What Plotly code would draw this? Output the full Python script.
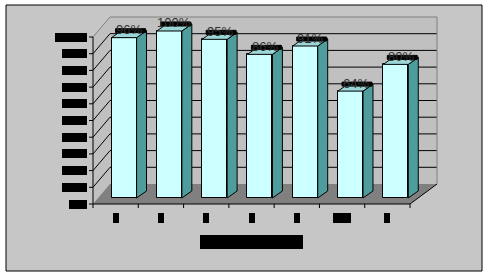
import plotly.graph_objects as go

# ---------------- data ----------------
categories = ["1", "2", "3", "4", "5", "6-7", "8"]
values = [96, 100, 95, 86, 91, 64, 80]
value_labels = ["96%", "100%", "95%", "86%", "91%", "64%", "80%"]
y_ticks = [0, 10, 20, 30, 40, 50, 60, 70, 80, 90, 100]
y_tick_labels = [f"{t}%" for t in y_ticks]
axis_title = "Category"

# ---------------- layout constants ----------------
W, H = 489, 276
X_ORIGIN_PX, X_UNIT_PX = 93.0, 45.29
Y_ORIGIN_PX, Y_UNIT_PX = 204.0, 1.67

WALL_DX_L = 17 / X_UNIT_PX
WALL_DX_R = 27 / X_UNIT_PX
WALL_DY = 20 / Y_UNIT_PX
BAR_OFF, BAR_W = 0.41, 0.552
BAR_LIFT = 3.6
BAR_DX, BAR_DY = 0.22, 4.2

BG = "#C6C6C6"
WALL = "#C0C0C0"
FLOOR = "#808080"
FRONT = "#CCFFFF"
SIDE = "#4F9C9C"
TOP = "#9CD6D6"

n = len(categories)
ymax = y_ticks[-1]

def px_x(p):
    return p / X_UNIT_PX

def px_y(p):
    return p / Y_UNIT_PX

fig = go.Figure()
shapes = []

def path_shape(pts, fill=None, line_color=None, closed=True):
    d = "M " + " L ".join(f"{x},{y}" for x, y in pts) + (" Z" if closed else "")
    shapes.append(dict(type="path", path=d, xref="x", yref="y", layer="below",
                       fillcolor=fill if fill else "rgba(0,0,0,0)",
                       line=dict(color=line_color if line_color else "rgba(0,0,0,0)",
                                 width=1 if line_color else 0)))

def poly(xs, ys, fill, line_color=None):
    fig.add_trace(go.Scatter(
        x=xs, y=ys, mode="lines", fill="toself", fillcolor=fill,
        line=dict(color=line_color or fill, width=1 if line_color else 0),
        hoverinfo="skip", showlegend=False))

def lines(xs, ys, color="black", width=1):
    fig.add_trace(go.Scatter(x=xs, y=ys, mode="lines",
                             line=dict(color=color, width=width),
                             hoverinfo="skip", showlegend=False))

# outer frame
shapes.append(dict(type="rect", xref="paper", yref="paper",
                   x0=6 / W, x1=482 / W, y0=1 - 271 / H, y1=1 - 5 / H,
                   fillcolor=BG, line=dict(color="black", width=1), layer="below"))

bx0, bx1 = WALL_DX_L, n + WALL_DX_R
# side wall, back wall, floor
path_shape([(0, 0), (0, ymax), (WALL_DX_L, ymax + WALL_DY), (WALL_DX_L, WALL_DY)], WALL)
path_shape([(bx0, WALL_DY), (bx1, WALL_DY), (bx1, ymax + WALL_DY), (bx0, ymax + WALL_DY)], WALL)
path_shape([(0, 0), (n, 0), (n + WALL_DX_R, WALL_DY), (WALL_DX_L, WALL_DY)], FLOOR)
# gridlines on walls
for t in y_ticks[1:-1]:
    path_shape([(0, t), (WALL_DX_L, t + WALL_DY), (bx1, t + WALL_DY)], None, "black", closed=False)
# wall outline
path_shape([(0, ymax), (WALL_DX_L, ymax + WALL_DY), (bx1, ymax + WALL_DY), (bx1, WALL_DY)],
           None, "#808080", closed=False)
# floor right edge
path_shape([(n, 0), (n + WALL_DX_R, WALL_DY)], None, "black", closed=False)

# axes lines & ticks
ax, ay = [0, 0, None, 0, n, None], [0, ymax, None, 0, 0, None]
for t in y_ticks:
    ax += [0, -px_x(4), None]
    ay += [t, t, None]
for i in range(n + 1):
    ax += [i, i, None]
    ay += [0, -px_y(4), None]
lines(ax, ay)

# bars: front faces
centers = [i + BAR_OFF + BAR_W / 2 for i in range(n)]
fig.add_trace(go.Bar(x=centers, y=values, base=BAR_LIFT, width=BAR_W,
                     marker=dict(color=FRONT, line=dict(color="black", width=1)),
                     hoverinfo="skip", showlegend=False))

# side & top faces
sx, sy, tx, ty, kx, ky = [], [], [], [], [], []
for i, v in enumerate(values):
    x0 = i + BAR_OFF
    x1 = x0 + BAR_W
    top = BAR_LIFT + v
    sx += [x1, x1 + BAR_DX, x1 + BAR_DX, x1, x1, None]
    sy += [BAR_LIFT, BAR_LIFT + BAR_DY, top + BAR_DY, top, BAR_LIFT, None]
    tx += [x0, x1, x1 + BAR_DX, x0 + BAR_DX, x0, None]
    ty += [top, top, top + BAR_DY, top + BAR_DY, top, None]
    kx += [x0 + px_x(4), x1 + BAR_DX - px_x(1), x1 + BAR_DX - px_x(1), x0 + px_x(4), x0 + px_x(4), None]
    ky += [top + px_y(5), top + px_y(5), top + px_y(9), top + px_y(9), top + px_y(5), None]
poly(sx, sy, SIDE, "black")
poly(tx, ty, TOP, "black")
poly(kx, ky, "black", "black")

annotations = []
for i, v in enumerate(values):
    annotations.append(dict(
        x=i + BAR_OFF + BAR_W / 2 + BAR_DX / 2, y=BAR_LIFT + v + px_y(8),
        xref="x", yref="y", text=value_labels[i], showarrow=False,
        font=dict(family="Arial", size=13, color="#303030"),
        xanchor="center", yanchor="middle"))

# redacted tick labels (black boxes)
for t, lab in zip(y_ticks, y_tick_labels):
    annotations.append(dict(
        x=-px_x(6), y=t, xref="x", yref="y", text=lab, showarrow=False,
        xanchor="right", yanchor="middle", bgcolor="black", borderpad=0, borderwidth=0,
        width=7 * len(lab) + 4, height=9,
        font=dict(family="Arial", size=8, color="black")))
for i, lab in enumerate(categories):
    annotations.append(dict(
        x=i + 0.5, y=-px_y(14), xref="x", yref="y", text=lab, showarrow=False,
        xanchor="center", yanchor="middle", bgcolor="black", borderpad=0, borderwidth=0,
        width=6 * len(lab), height=10,
        font=dict(family="Arial", size=8, color="black")))
annotations.append(dict(
    x=n / 2, y=-px_y(38), xref="x", yref="y", text=axis_title, showarrow=False,
    xanchor="center", yanchor="middle", bgcolor="black", borderpad=0, borderwidth=0,
    width=103, height=14, font=dict(family="Arial", size=10, color="black")))

fig.update_layout(
    width=W, height=H, margin=dict(l=0, r=0, t=0, b=0),
    paper_bgcolor="white", plot_bgcolor="rgba(0,0,0,0)",
    xaxis=dict(visible=False, range=[-X_ORIGIN_PX / X_UNIT_PX, (W - X_ORIGIN_PX) / X_UNIT_PX], fixedrange=True),
    yaxis=dict(visible=False, range=[-(H - Y_ORIGIN_PX) / Y_UNIT_PX, Y_ORIGIN_PX / Y_UNIT_PX], fixedrange=True),
    showlegend=False, bargap=0,
    shapes=shapes,
    annotations=annotations,
)

fig.write_html("out.html")
